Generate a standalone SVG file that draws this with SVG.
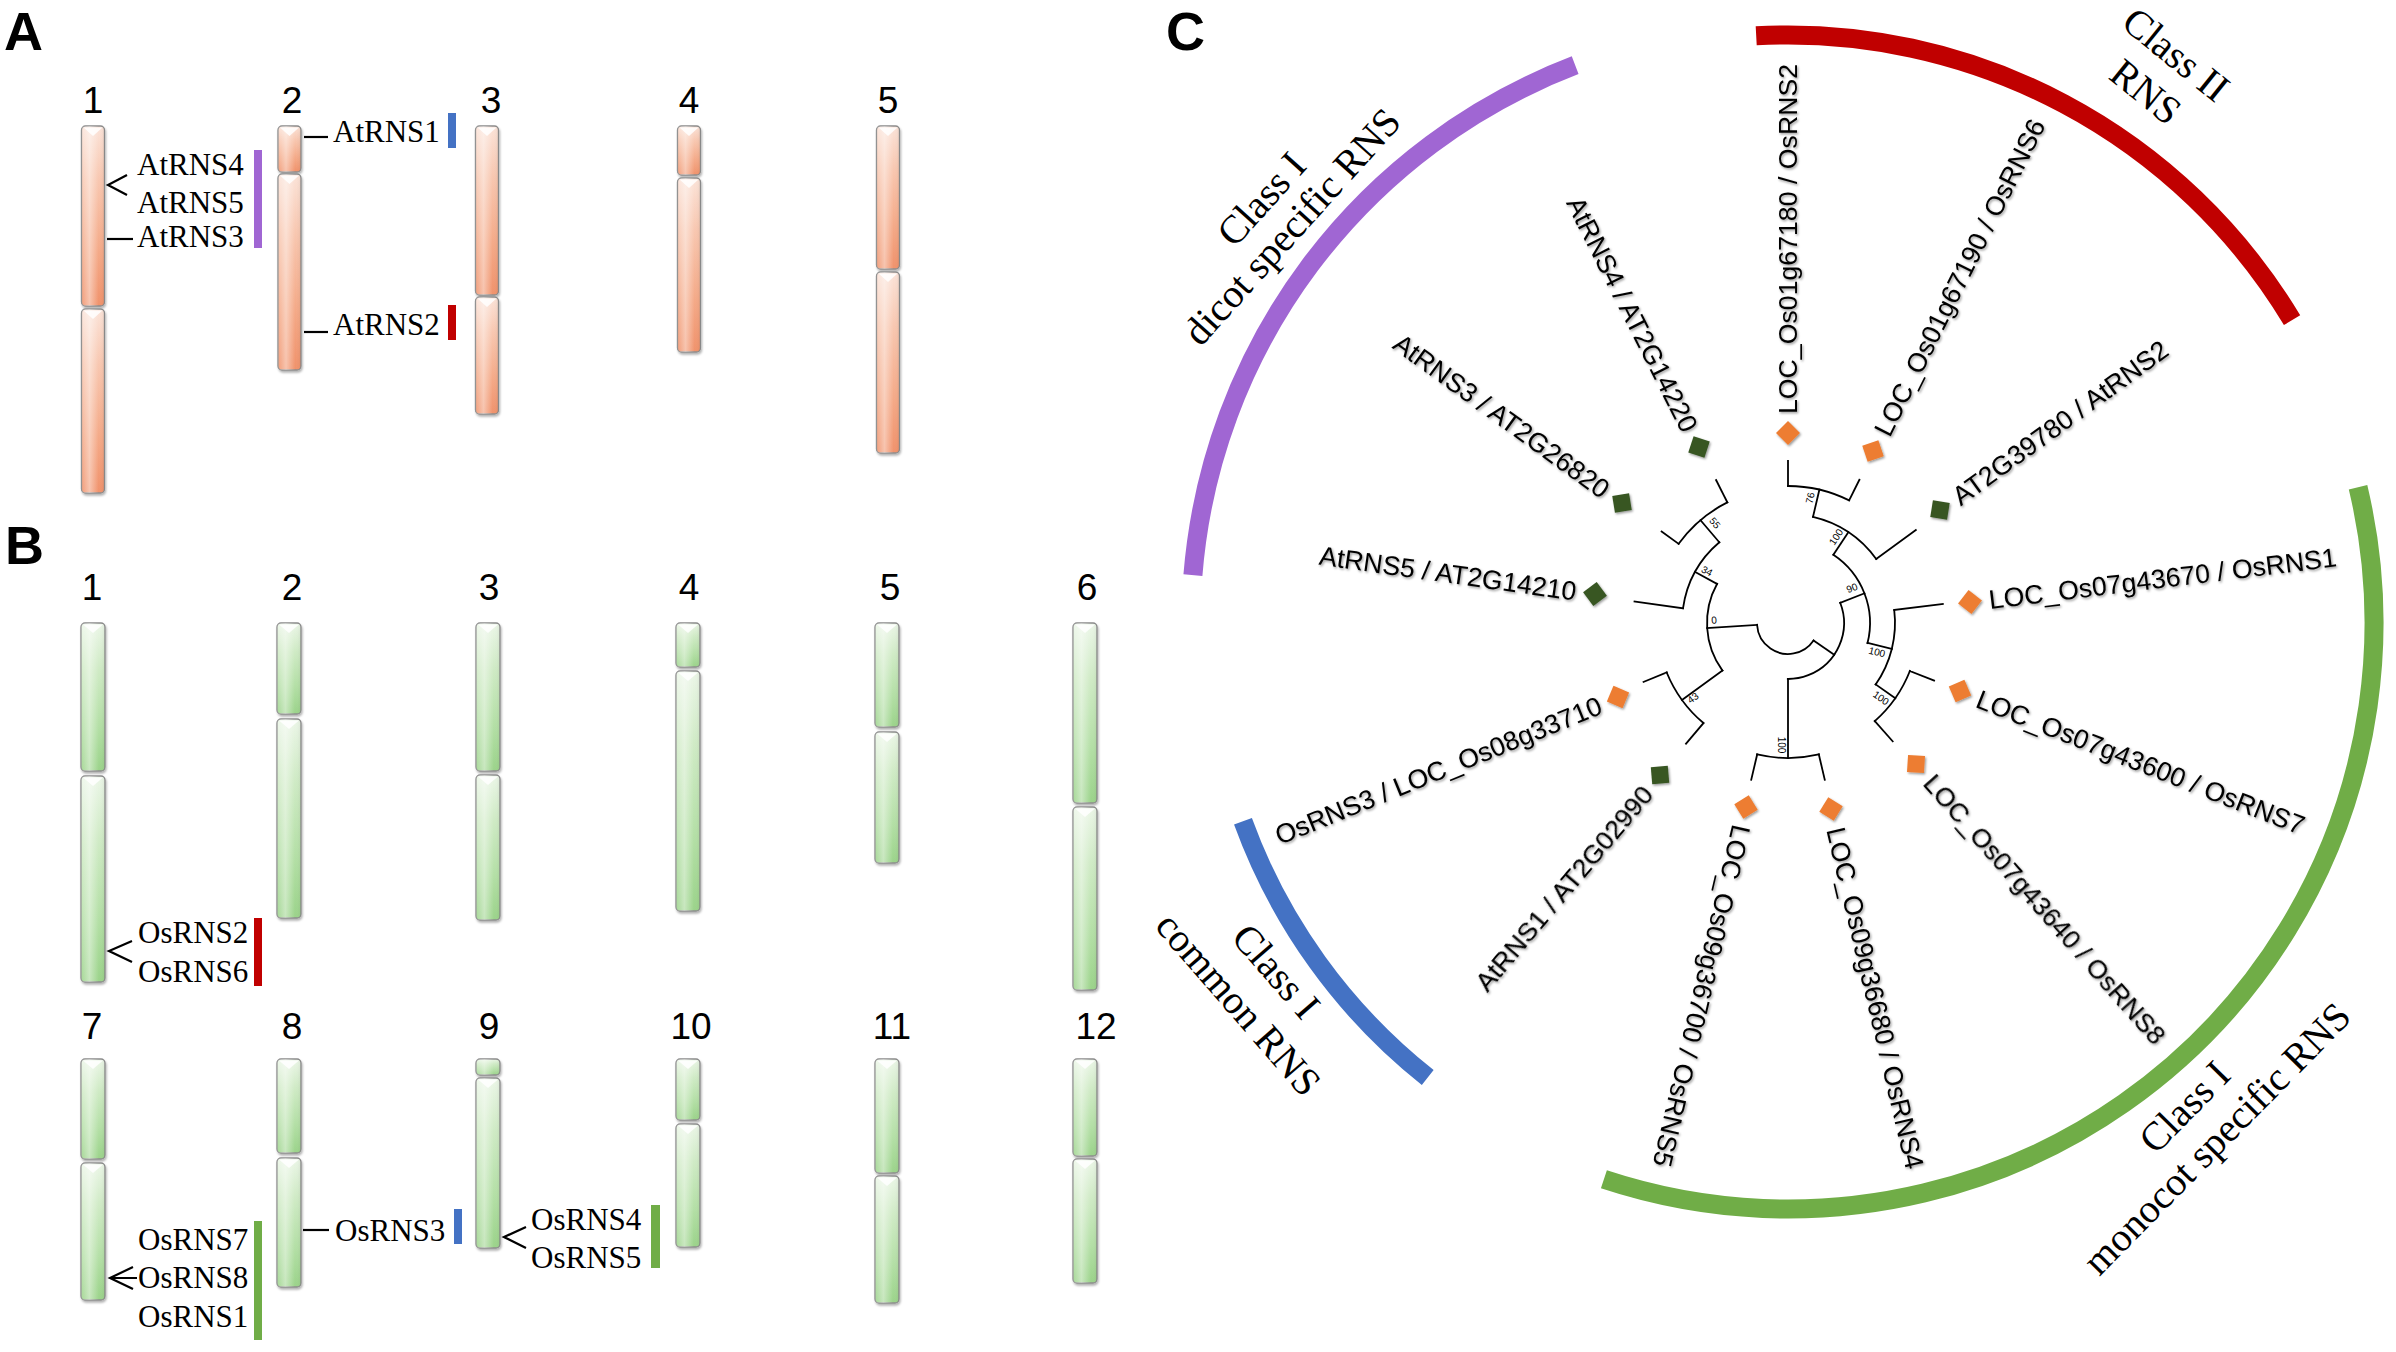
<svg xmlns="http://www.w3.org/2000/svg" xmlns:xlink="http://www.w3.org/1999/xlink" width="2396" height="1352" viewBox="0 0 2396 1352">
<defs>
<linearGradient id="gO" x1="0" y1="0" x2="0" y2="1"><stop offset="0" stop-color="#FBE3D8"/><stop offset="0.3" stop-color="#F8C7B0"/><stop offset="0.7" stop-color="#F4A987"/><stop offset="1" stop-color="#F0926B"/></linearGradient>
<linearGradient id="gG" x1="0" y1="0" x2="0" y2="1"><stop offset="0" stop-color="#EBF6E7"/><stop offset="0.3" stop-color="#D0EBC6"/><stop offset="0.7" stop-color="#B3DFA5"/><stop offset="1" stop-color="#9BD38A"/></linearGradient>
<linearGradient id="gH" x1="0" y1="0" x2="1" y2="0"><stop offset="0" stop-color="#fff" stop-opacity="0.1"/><stop offset="0.35" stop-color="#fff" stop-opacity="0.45"/><stop offset="0.75" stop-color="#fff" stop-opacity="0"/><stop offset="1" stop-color="#000" stop-opacity="0.06"/></linearGradient>
<filter id="cs" x="-30%" y="-5%" width="160%" height="115%"><feDropShadow dx="1" dy="2" stdDeviation="1.2" flood-color="#000" flood-opacity="0.3"/></filter>
<filter id="ts" x="-5%" y="-5%" width="110%" height="110%"><feDropShadow dx="1.2" dy="1.5" stdDeviation="1" flood-color="#000" flood-opacity="0.4"/></filter>
<path id="bvA" d="M2,1.5 L11.5,10 L21,1.5 Z"/>
<path id="bvB" d="M2,1.5 L12,10 L22,1.5 Z"/>
</defs>
<style>
.so{fill:url(#gO);stroke:#8c8c8c;stroke-width:1.3}
.sg{fill:url(#gG);stroke:#8c8c8c;stroke-width:1.3}
.hl{fill:url(#gH);stroke:none}
.bv{fill:#fff;opacity:0.85}
.num{font-family:"Liberation Sans",Arial,sans-serif;font-size:37px;text-anchor:middle;fill:#000}
.gn{font-family:"Liberation Serif","Times New Roman",serif;font-size:31px;fill:#000}
.pl{font-family:"Liberation Sans",Arial,sans-serif;font-size:54px;font-weight:bold;fill:#000}
.tick{stroke:#000;stroke-width:2.2;fill:none}
.br{stroke:#000;stroke-width:1.8;fill:none;stroke-linecap:square}
.lf{font-family:"Liberation Sans",Arial,sans-serif;font-size:26.7px;fill:#000}
.bs{font-family:"Liberation Sans",Arial,sans-serif;font-size:10px;text-anchor:middle;dominant-baseline:central;fill:#000}
.cl{font-family:"Liberation Serif","Times New Roman",serif;font-size:40px;text-anchor:middle;fill:#000}
.mo{fill:#ED7D31}
.mg{fill:#375623}
.arc{fill:none;stroke-width:19}
</style>
<rect width="2396" height="1352" fill="#fff"/>

<!-- Panel letters -->
<text class="pl" x="4" y="50">A</text>
<text class="pl" x="5" y="564">B</text>
<text class="pl" x="1166" y="50">C</text>

<!-- Panel A chromosomes -->
<g id="panelA">
<g id="chrA1" filter="url(#cs)">
<g transform="translate(81.5,126)"><rect class="so" width="23" height="180" rx="4"/><rect class="hl" width="23" height="180" rx="4"/><use xlink:href="#bvA" class="bv"/></g>
<g transform="translate(81.5,309)"><rect class="so" width="23" height="184" rx="4"/><rect class="hl" width="23" height="184" rx="4"/><use xlink:href="#bvA" class="bv"/></g>
</g>
<g id="chrA2" filter="url(#cs)">
<g transform="translate(278,126)"><rect class="so" width="23" height="46" rx="4"/><rect class="hl" width="23" height="46" rx="4"/><use xlink:href="#bvA" class="bv"/></g>
<g transform="translate(278,174)"><rect class="so" width="23" height="196" rx="4"/><rect class="hl" width="23" height="196" rx="4"/><use xlink:href="#bvA" class="bv"/></g>
</g>
<g id="chrA3" filter="url(#cs)">
<g transform="translate(475.5,126)"><rect class="so" width="23" height="169" rx="4"/><rect class="hl" width="23" height="169" rx="4"/><use xlink:href="#bvA" class="bv"/></g>
<g transform="translate(475.5,297)"><rect class="so" width="23" height="117" rx="4"/><rect class="hl" width="23" height="117" rx="4"/><use xlink:href="#bvA" class="bv"/></g>
</g>
<g id="chrA4" filter="url(#cs)">
<g transform="translate(677.5,126)"><rect class="so" width="23" height="49" rx="4"/><rect class="hl" width="23" height="49" rx="4"/><use xlink:href="#bvA" class="bv"/></g>
<g transform="translate(677.5,178)"><rect class="so" width="23" height="174" rx="4"/><rect class="hl" width="23" height="174" rx="4"/><use xlink:href="#bvA" class="bv"/></g>
</g>
<g id="chrA5" filter="url(#cs)">
<g transform="translate(876.5,126)"><rect class="so" width="23" height="143" rx="4"/><rect class="hl" width="23" height="143" rx="4"/><use xlink:href="#bvA" class="bv"/></g>
<g transform="translate(876.5,272)"><rect class="so" width="23" height="181" rx="4"/><rect class="hl" width="23" height="181" rx="4"/><use xlink:href="#bvA" class="bv"/></g>
</g>
<text class="num" x="93" y="113">1</text>
<text class="num" x="292" y="113">2</text>
<text class="num" x="491" y="113">3</text>
<text class="num" x="689" y="113">4</text>
<text class="num" x="888" y="113">5</text>
<g id="genesA">
<path class="tick" d="M127,175 L108,185 L127,195"/>
<path class="tick" d="M107,239 H133"/>
<path class="tick" d="M304,137 H328"/>
<path class="tick" d="M304,332 H328"/>
<text class="gn" x="137" y="175">AtRNS4</text>
<text class="gn" x="137" y="213">AtRNS5</text>
<text class="gn" x="137" y="247">AtRNS3</text>
<text class="gn" x="333" y="142">AtRNS1</text>
<text class="gn" x="333" y="335">AtRNS2</text>
<rect x="254" y="150" width="8" height="98" fill="#A066D3"/>
<rect x="448" y="113" width="8" height="35" fill="#4472C4"/>
<rect x="448" y="305" width="8" height="35" fill="#C00000"/>
</g>
</g>

<!-- Panel B chromosomes -->
<g id="panelB">
<g id="chrB1" filter="url(#cs)">
<g transform="translate(81,623)"><rect class="sg" width="24" height="148" rx="4"/><rect class="hl" width="24" height="148" rx="4"/><use xlink:href="#bvB" class="bv"/></g>
<g transform="translate(81,776)"><rect class="sg" width="24" height="206" rx="4"/><rect class="hl" width="24" height="206" rx="4"/><use xlink:href="#bvB" class="bv"/></g>
</g>
<g id="chrB2" filter="url(#cs)">
<g transform="translate(277,623)"><rect class="sg" width="24" height="91" rx="4"/><rect class="hl" width="24" height="91" rx="4"/><use xlink:href="#bvB" class="bv"/></g>
<g transform="translate(277,719)"><rect class="sg" width="24" height="199" rx="4"/><rect class="hl" width="24" height="199" rx="4"/><use xlink:href="#bvB" class="bv"/></g>
</g>
<g id="chrB3" filter="url(#cs)">
<g transform="translate(476,623)"><rect class="sg" width="24" height="148" rx="4"/><rect class="hl" width="24" height="148" rx="4"/><use xlink:href="#bvB" class="bv"/></g>
<g transform="translate(476,775)"><rect class="sg" width="24" height="145" rx="4"/><rect class="hl" width="24" height="145" rx="4"/><use xlink:href="#bvB" class="bv"/></g>
</g>
<g id="chrB4" filter="url(#cs)">
<g transform="translate(676,623)"><rect class="sg" width="24" height="44" rx="4"/><rect class="hl" width="24" height="44" rx="4"/><use xlink:href="#bvB" class="bv"/></g>
<g transform="translate(676,671)"><rect class="sg" width="24" height="240" rx="4"/><rect class="hl" width="24" height="240" rx="4"/><use xlink:href="#bvB" class="bv"/></g>
</g>
<g id="chrB5" filter="url(#cs)">
<g transform="translate(875,623)"><rect class="sg" width="24" height="104" rx="4"/><rect class="hl" width="24" height="104" rx="4"/><use xlink:href="#bvB" class="bv"/></g>
<g transform="translate(875,732)"><rect class="sg" width="24" height="131" rx="4"/><rect class="hl" width="24" height="131" rx="4"/><use xlink:href="#bvB" class="bv"/></g>
</g>
<g id="chrB6" filter="url(#cs)">
<g transform="translate(1073,623)"><rect class="sg" width="24" height="180" rx="4"/><rect class="hl" width="24" height="180" rx="4"/><use xlink:href="#bvB" class="bv"/></g>
<g transform="translate(1073,807)"><rect class="sg" width="24" height="183" rx="4"/><rect class="hl" width="24" height="183" rx="4"/><use xlink:href="#bvB" class="bv"/></g>
</g>
<g id="chrB7" filter="url(#cs)">
<g transform="translate(81,1059)"><rect class="sg" width="24" height="100" rx="4"/><rect class="hl" width="24" height="100" rx="4"/><use xlink:href="#bvB" class="bv"/></g>
<g transform="translate(81,1163)"><rect class="sg" width="24" height="137" rx="4"/><rect class="hl" width="24" height="137" rx="4"/><use xlink:href="#bvB" class="bv"/></g>
</g>
<g id="chrB8" filter="url(#cs)">
<g transform="translate(277,1059)"><rect class="sg" width="24" height="94" rx="4"/><rect class="hl" width="24" height="94" rx="4"/><use xlink:href="#bvB" class="bv"/></g>
<g transform="translate(277,1158)"><rect class="sg" width="24" height="129" rx="4"/><rect class="hl" width="24" height="129" rx="4"/><use xlink:href="#bvB" class="bv"/></g>
</g>
<g id="chrB9" filter="url(#cs)">
<g transform="translate(476,1059)"><rect class="sg" width="24" height="16" rx="4"/><rect class="hl" width="24" height="16" rx="4"/></g>
<g transform="translate(476,1078)"><rect class="sg" width="24" height="170" rx="4"/><rect class="hl" width="24" height="170" rx="4"/><use xlink:href="#bvB" class="bv"/></g>
</g>
<g id="chrB10" filter="url(#cs)">
<g transform="translate(676,1059)"><rect class="sg" width="24" height="61" rx="4"/><rect class="hl" width="24" height="61" rx="4"/><use xlink:href="#bvB" class="bv"/></g>
<g transform="translate(676,1124)"><rect class="sg" width="24" height="123" rx="4"/><rect class="hl" width="24" height="123" rx="4"/><use xlink:href="#bvB" class="bv"/></g>
</g>
<g id="chrB11" filter="url(#cs)">
<g transform="translate(875,1059)"><rect class="sg" width="24" height="114" rx="4"/><rect class="hl" width="24" height="114" rx="4"/><use xlink:href="#bvB" class="bv"/></g>
<g transform="translate(875,1176)"><rect class="sg" width="24" height="127" rx="4"/><rect class="hl" width="24" height="127" rx="4"/><use xlink:href="#bvB" class="bv"/></g>
</g>
<g id="chrB12" filter="url(#cs)">
<g transform="translate(1073,1059)"><rect class="sg" width="24" height="97" rx="4"/><rect class="hl" width="24" height="97" rx="4"/><use xlink:href="#bvB" class="bv"/></g>
<g transform="translate(1073,1159)"><rect class="sg" width="24" height="124" rx="4"/><rect class="hl" width="24" height="124" rx="4"/><use xlink:href="#bvB" class="bv"/></g>
</g>
<text class="num" x="92" y="600">1</text>
<text class="num" x="292" y="600">2</text>
<text class="num" x="489" y="600">3</text>
<text class="num" x="689" y="600">4</text>
<text class="num" x="890" y="600">5</text>
<text class="num" x="1087" y="600">6</text>
<text class="num" x="92" y="1039">7</text>
<text class="num" x="292" y="1039">8</text>
<text class="num" x="489" y="1039">9</text>
<text class="num" x="691" y="1039">10</text>
<text class="num" x="892" y="1039">11</text>
<text class="num" x="1096" y="1039">12</text>
<g id="genesB">
<path class="tick" d="M132,941 L109,951 L132,962"/>
<text class="gn" x="138" y="943">OsRNS2</text>
<text class="gn" x="138" y="982">OsRNS6</text>
<rect x="254" y="918" width="8" height="68" fill="#C00000"/>
<path class="tick" d="M133,1267 L110,1278 L133,1289 M110,1278 H137"/>
<text class="gn" x="138" y="1250">OsRNS7</text>
<text class="gn" x="138" y="1288">OsRNS8</text>
<text class="gn" x="138" y="1327">OsRNS1</text>
<rect x="254" y="1221" width="8" height="119" fill="#70AD47"/>
<path class="tick" d="M303,1230 H329"/>
<text class="gn" x="335" y="1241">OsRNS3</text>
<rect x="454" y="1209" width="8" height="35" fill="#4472C4"/>
<path class="tick" d="M526,1227 L504,1237 L526,1248"/>
<text class="gn" x="531" y="1230">OsRNS4</text>
<text class="gn" x="531" y="1268">OsRNS5</text>
<rect x="651" y="1205" width="9" height="63" fill="#70AD47"/>
</g>
</g>

<!-- Panel C: tree -->
<g id="panelC">
<g id="classArcs" transform="translate(1788,623)">
<circle class="arc" r="597" stroke="#A066D3" transform="rotate(184.6)" stroke-dasharray="672.1 5000"/>
<circle class="arc" r="588" stroke="#C00000" transform="rotate(-93.1)" stroke-dasharray="637.3 5000"/>
<circle class="arc" r="586" stroke="#70AD47" transform="rotate(-13.4)" stroke-dasharray="1244.7 5000"/>
<circle class="arc" r="580" stroke="#4472C4" transform="rotate(128.4)" stroke-dasharray="319.9 5000"/>
</g>
<g id="classLabels">
<g transform="translate(1278,214) rotate(-48)"><text class="cl" y="-9">Class I</text><text class="cl" y="32">dicot specific RNS</text></g>
<g transform="translate(2161,73) rotate(39)"><text class="cl" y="-10.5">Class II</text><text class="cl" y="37.5">RNS</text></g>
<g transform="translate(1257.5,987.5) rotate(49)"><text class="cl" y="-11.5">Class I</text><text class="cl" y="38.5">common RNS</text></g>
<g transform="translate(2202,1124) rotate(-45.5)"><text class="cl" y="-11">Class I</text><text class="cl" y="34">monocot specific RNS</text></g>
</g>
<g id="connectors" class="br" transform="translate(1788,623)">
<circle r="31" transform="rotate(34.4)" stroke-dasharray="76.83 5000"/>
<circle r="56" transform="rotate(-21.2)" stroke-dasharray="108.69 5000"/>
<circle r="81" transform="rotate(144)" stroke-dasharray="91.61 5000"/>
<circle r="82" transform="rotate(-56.4)" stroke-dasharray="100.75 5000"/>
<circle r="106" transform="rotate(188)" stroke-dasharray="76.96 5000"/>
<circle r="109" transform="rotate(-76.75)" stroke-dasharray="77.52 5000"/>
<circle r="107" transform="rotate(-7)" stroke-dasharray="78.44 5000"/>
<circle r="131" transform="rotate(130.2)" stroke-dasharray="63.10 5000"/>
<circle r="131" transform="rotate(21.5)" stroke-dasharray="61.73 5000"/>
<circle r="135" transform="rotate(215.9)" stroke-dasharray="64.56 5000"/>
<circle r="135" transform="rotate(76.8)" stroke-dasharray="62.20 5000"/>
<circle r="137" transform="rotate(-90)" stroke-dasharray="63.36 5000"/>
<path d="M31,0H56" transform="rotate(34.4)"/>
<path d="M31,0H81" transform="rotate(176.4)"/>
<path d="M56,0H82" transform="rotate(-21.2)"/>
<path d="M56,0H135" transform="rotate(90)"/>
<path d="M82,0H109" transform="rotate(-56.4)"/>
<path d="M82,0H107" transform="rotate(14)"/>
<path d="M109,0H137" transform="rotate(-76.75)"/>
<path d="M109,0H158" transform="rotate(-36)"/>
<path d="M137,0H162" transform="rotate(-90)"/>
<path d="M137,0H160" transform="rotate(-63.5)"/>
<path d="M107,0H156" transform="rotate(-7)"/>
<path d="M107,0H131" transform="rotate(35)"/>
<path d="M131,0H157" transform="rotate(21.5)"/>
<path d="M131,0H158" transform="rotate(48.5)"/>
<path d="M135,0H161" transform="rotate(76.8)"/>
<path d="M135,0H161" transform="rotate(103.2)"/>
<path d="M81,0H131" transform="rotate(144)"/>
<path d="M81,0H106" transform="rotate(208.8)"/>
<path d="M131,0H158" transform="rotate(130.2)"/>
<path d="M131,0H156" transform="rotate(157.8)"/>
<path d="M106,0H155" transform="rotate(188)"/>
<path d="M106,0H135" transform="rotate(229.6)"/>
<path d="M135,0H156" transform="rotate(215.9)"/>
<path d="M135,0H160" transform="rotate(243.3)"/>
</g>
<g id="bootstrap">
<text class="bs" transform="translate(1714,620) rotate(-3.6)">0</text>
<text class="bs" transform="translate(1707,571) rotate(28.8)">34</text>
<text class="bs" transform="translate(1715,523) rotate(49.6)">55</text>
<text class="bs" transform="translate(1693,698) rotate(-36)">43</text>
<text class="bs" transform="translate(1781,745) rotate(90)">100</text>
<text class="bs" transform="translate(1810,498) rotate(-76.75)">76</text>
<text class="bs" transform="translate(1836,537) rotate(-56.4)">100</text>
<text class="bs" transform="translate(1852,588) rotate(-21.2)">90</text>
<text class="bs" transform="translate(1877,652) rotate(14)">100</text>
<text class="bs" transform="translate(1881,698) rotate(35)">100</text>
</g>
<g id="leaves" filter="url(#ts)">
<g id="leaf-OsRNS2"><rect class="mo" x="-8.5" y="-8.5" width="17" height="17" transform="translate(1788,433) rotate(-45)"/><text class="lf" dy="0.35em" x="19" transform="translate(1788,433) rotate(-90)">LOC_Os01g67180 / OsRNS2</text></g>
<g id="leaf-OsRNS6"><rect class="mo" x="-8.5" y="-8.5" width="17" height="17" transform="translate(1873,451) rotate(-18.5)"/><text class="lf" dy="0.35em" x="19" transform="translate(1873,451) rotate(-63.5)">LOC_Os01g67190 / OsRNS6</text></g>
<g id="leaf-AtRNS2"><rect class="mg" x="-8.5" y="-8.5" width="17" height="17" transform="translate(1940,510) rotate(9)"/><text class="lf" dy="0.35em" x="19" transform="translate(1940,510) rotate(-36)">AT2G39780 / AtRNS2</text></g>
<g id="leaf-OsRNS1"><rect class="mo" x="-8.5" y="-8.5" width="17" height="17" transform="translate(1970,602) rotate(38)"/><text class="lf" dy="0.35em" x="19" transform="translate(1970,602) rotate(-7)">LOC_Os07g43670 / OsRNS1</text></g>
<g id="leaf-OsRNS7"><rect class="mo" x="-8.5" y="-8.5" width="17" height="17" transform="translate(1960,691) rotate(66.5)"/><text class="lf" dy="0.35em" x="19" transform="translate(1960,691) rotate(21.5)">LOC_Os07g43600 / OsRNS7</text></g>
<g id="leaf-OsRNS8"><rect class="mo" x="-8.5" y="-8.5" width="17" height="17" transform="translate(1916,764) rotate(93.5)"/><text class="lf" dy="0.35em" x="19" transform="translate(1916,764) rotate(48.5)">LOC_Os07g43640 / OsRNS8</text></g>
<g id="leaf-OsRNS4"><rect class="mo" x="-8.5" y="-8.5" width="17" height="17" transform="translate(1831,809) rotate(121.8)"/><text class="lf" dy="0.35em" x="19" transform="translate(1831,809) rotate(76.8)">LOC_Os09g36680 / OsRNS4</text></g>
<g id="leaf-OsRNS5"><rect class="mo" x="-8.5" y="-8.5" width="17" height="17" transform="translate(1746,807) rotate(148.2)"/><text class="lf" dy="0.35em" x="19" transform="translate(1746,807) rotate(103.2)">LOC_Os09g36700 / OsRNS5</text></g>
<g id="leaf-AtRNS1"><rect class="mg" x="-8.5" y="-8.5" width="17" height="17" transform="translate(1660,775) rotate(175.2)"/><text class="lf" dy="0.35em" x="-19" text-anchor="end" transform="translate(1660,775) rotate(-49.8)">AtRNS1 / AT2G02990</text></g>
<g id="leaf-OsRNS3"><rect class="mo" x="-8.5" y="-8.5" width="17" height="17" transform="translate(1618,697) rotate(202.8)"/><text class="lf" dy="0.35em" x="-19" text-anchor="end" transform="translate(1618,697) rotate(-22.2)">OsRNS3 / LOC_Os08g33710</text></g>
<g id="leaf-AtRNS5"><rect class="mg" x="-8.5" y="-8.5" width="17" height="17" transform="translate(1595,594) rotate(233)"/><text class="lf" dy="0.35em" x="-19" text-anchor="end" transform="translate(1595,594) rotate(8)">AtRNS5 / AT2G14210</text></g>
<g id="leaf-AtRNS3"><rect class="mg" x="-8.5" y="-8.5" width="17" height="17" transform="translate(1622,503) rotate(260.9)"/><text class="lf" dy="0.35em" x="-19" text-anchor="end" transform="translate(1622,503) rotate(35.9)">AtRNS3 / AT2G26820</text></g>
<g id="leaf-AtRNS4"><rect class="mg" x="-8.5" y="-8.5" width="17" height="17" transform="translate(1699,447) rotate(288.3)"/><text class="lf" dy="0.35em" x="-19" text-anchor="end" transform="translate(1699,447) rotate(63.3)">AtRNS4 / AT2G14220</text></g>
</g>
</g>
</svg>
